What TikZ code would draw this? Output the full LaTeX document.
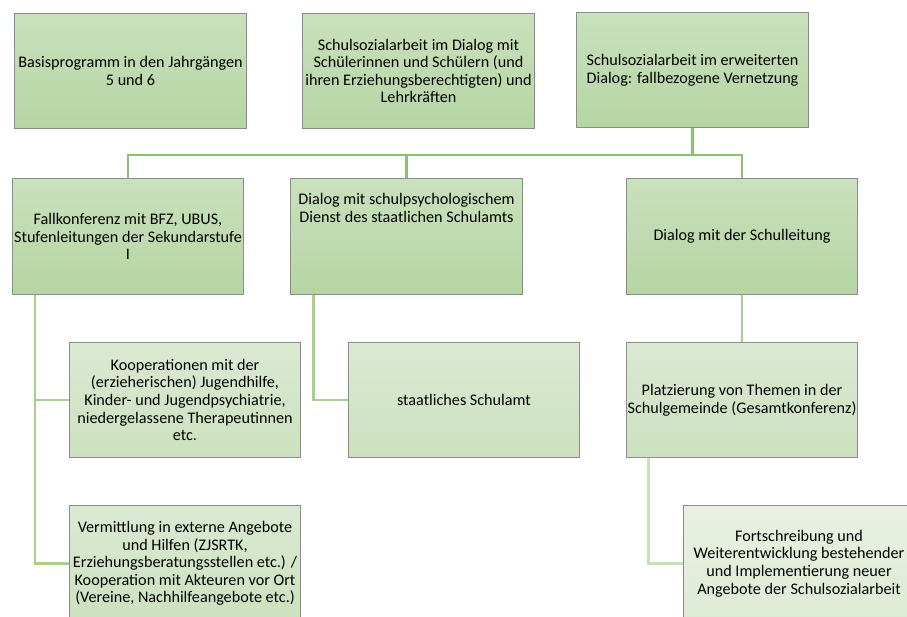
\documentclass[tikz,border=0pt]{standalone}
\usepackage{fontspec}
\setmainfont{Carlito}
\usetikzlibrary{calc,backgrounds}
\definecolor{cus-green}{RGB}{141, 192, 111}
\definecolor{cus-green1}{RGB}{169, 209, 142}
\definecolor{cus-green2}{RGB}{199, 225, 183}
\definecolor{cus-top}{RGB}{201, 225, 189}
\definecolor{cus-bot}{RGB}{181, 213, 163}
\definecolor{cus-top1}{RGB}{219, 233, 210}
\definecolor{cus-bot1}{RGB}{204, 225, 191}
\definecolor{cus-top2}{RGB}{232, 241, 226}
\definecolor{cus-bot2}{RGB}{221, 235, 212}
\definecolor{cus-gray}{RGB}{140, 140, 140}
\tikzset{
	box/.style={draw=cus-gray, line width=.6pt, rectangle, minimum width=5.78cm, minimum height=2.88cm,
		align=center, inner sep=1pt, font=\fontsize{11.5}{12.5}\selectfont},
	lvl1/.style={box, top color=cus-top, bottom color=cus-bot},
	lvl2/.style={box, top color=cus-top1, bottom color=cus-bot1},
	lvl3/.style={box, top color=cus-top2, bottom color=cus-bot2},
	link/.style={line width=2pt, draw=cus-green},
	link1/.style={line width=1.8pt, draw=cus-green1},
	link2/.style={line width=1.8pt, draw=cus-green2}
}

\begin{document}
\begin{tikzpicture}[x=.025cm, y=-.025cm]
\useasboundingbox (0,0) rectangle (907,617);
% obere Reihe
\node [lvl1] (basis) at (130.5,71) {Basisprogramm in den Jahrgängen\\5 und 6};
\node [lvl1] (dialog) at (418.5,71) {Schulsozialarbeit im Dialog mit\\Schülerinnen und Schülern (und\\ihren Erziehungsberechtigten) und\\Lehrkräften};
\node [lvl1] (erw) at (692.5,70) {Schulsozialarbeit im erweiterten\\Dialog: fallbezogene Vernetzung};
% zweite Reihe
\node [lvl1] (fall) at (128,236.5) {Fallkonferenz mit BFZ, UBUS,\\Stufenleitungen der Sekundarstufe\\I};
\node [lvl1] (psych) at (406.5,236.5) {Dialog mit schulpsychologischem\\Dienst des staatlichen Schulamts\\[28pt]};
\node [lvl1] (leit) at (742,236.5) {Dialog mit der Schulleitung};
% dritte Reihe
\node [lvl2] (koop) at (185,400) {Kooperationen mit der\\(erzieherischen) Jugendhilfe,\\Kinder- und Jugendpsychiatrie,\\niedergelassene Therapeutinnen\\etc.};
\node [lvl2] (amt) at (464,400) {staatliches Schulamt};
\node [lvl2] (platz) at (742,400) {Platzierung von Themen in der\\Schulgemeinde (Gesamtkonferenz)};
\node [lvl2] (verm) at (185,563.5) {Vermittlung in externe Angebote\\und Hilfen (ZJSRTK,\\Erziehungsberatungsstellen etc.) /\\Kooperation mit Akteuren vor Ort\\(Vereine, Nachhilfeangebote etc.)};
\node [lvl3] (fort) at (799,563.5) {Fortschreibung und\\Weiterentwicklung bestehender\\und Implementierung neuer\\Angebote der Schulsozialarbeit};

\begin{scope}[on background layer]
\coordinate (bus) at (0,155);
\draw [link] (erw.south) -- (erw.south |- bus);
\draw [link] (fall.north) -- (fall.north |- bus) -- (leit.north |- bus) -- (leit.north);
\draw [link] (psych.north) -- (psych.north |- bus);
\draw [link1] ($(fall.south west)+(23,0)$) |- (koop.west);
\draw [link1] ($(fall.south west)+(23,0)$) |- (verm.west);
\draw [link1] ($(psych.south west)+(23,0)$) |- (amt.west);
\draw [link1] (leit.south) -- (platz.north);
\draw [link2] ($(platz.south west)+(23,0)$) |- (fort.west);
\end{scope}
\end{tikzpicture}
\end{document}
